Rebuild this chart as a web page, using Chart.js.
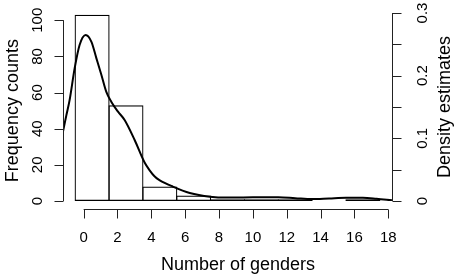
<!DOCTYPE html>
<html>
<head>
<meta charset="utf-8">
<script src="https://cdn.jsdelivr.net/npm/chart.js@4/dist/chart.umd.min.js"></script>
<style>
  html, body { margin: 0; padding: 0; background: #fff; }
  #wrap { width: 459px; height: 278px; }
</style>
</head>
<body>
<div id="wrap"><canvas id="genderChart"></canvas></div>
<script>
// histogram bins (centre of each 2-wide bin) and frequency counts
var binCentres = [0.5, 2.5, 4.5, 6.5, 8.5, 10.5, 12.5, 14.5, 16.5];
var binCounts = [103, 53, 8, 3, 1, 1, 1, 0, 1];

// kernel density estimate
var densityX = [-1.22, -1.02, -0.83, -0.53, -0.24, 0.12, 0.46, 0.75, 1.05, 1.34, 1.64, 2.03, 2.43, 3.02, 3.61, 3.9, 4.2, 4.5, 5.27, 6.27, 7.46, 8.5, 10, 11.5, 12.5, 13.5, 14.5, 15.5, 16.5, 17.3, 18.22];
var densityY = [0.111, 0.137, 0.161, 0.212, 0.249, 0.265, 0.254, 0.228, 0.201, 0.174, 0.158, 0.1425, 0.129, 0.097, 0.061, 0.049, 0.039, 0.033, 0.023, 0.0128, 0.0069, 0.0055, 0.0058, 0.006, 0.0045, 0.003, 0.004, 0.005, 0.005, 0.0035, 0.001];

// axis ticks
var genderTicks = [0, 2, 4, 6, 8, 10, 12, 14, 16, 18];
var countTicks = [0, 20, 40, 60, 80, 100];
var densityTicks = [0, 0.05, 0.1, 0.15, 0.2, 0.25, 0.3];
var densityLabels = ['0', '', '0.1', '', '0.2', '', '0.3'];

var tickFont = '15px "Liberation Sans", Arial, sans-serif';
var titleFont = '18px "Liberation Sans", Arial, sans-serif';

// R style axes, placed from the chart's own scales
var rAxes = {
    id: 'rAxes',
    afterDraw: function (chart) {
        var ctx = chart.ctx;
        var area = chart.chartArea;
        var xs = chart.scales.x, ys = chart.scales.y, ds = chart.scales.y2;
        ctx.save();
        ctx.strokeStyle = '#222';
        ctx.lineWidth = 1;
        ctx.fillStyle = '#000';

        // bottom axis
        var ay = Math.round(area.bottom + 8) + 0.5;
        ctx.beginPath();
        ctx.moveTo(xs.getPixelForValue(genderTicks[0]), ay);
        ctx.lineTo(xs.getPixelForValue(genderTicks[genderTicks.length - 1]), ay);
        genderTicks.forEach(function (t) {
            var px = Math.round(xs.getPixelForValue(t)) + 0.5;
            ctx.moveTo(px, ay);
            ctx.lineTo(px, ay + 9);
        });
        ctx.stroke();
        ctx.font = tickFont;
        ctx.textAlign = 'center';
        ctx.textBaseline = 'alphabetic';
        genderTicks.forEach(function (t) {
            ctx.fillText(String(t), xs.getPixelForValue(t), area.bottom + 41);
        });
        ctx.font = titleFont;
        ctx.fillText('Number of genders', (xs.getPixelForValue(0) + xs.getPixelForValue(18)) / 2 + 2, area.bottom + 69);

        // left axis
        var lx = Math.round(area.left) + 0.5;
        ctx.beginPath();
        ctx.moveTo(lx, ys.getPixelForValue(countTicks[0]));
        ctx.lineTo(lx, ys.getPixelForValue(countTicks[countTicks.length - 1]));
        countTicks.forEach(function (t) {
            var py = Math.round(ys.getPixelForValue(t)) + 0.5;
            ctx.moveTo(lx, py);
            ctx.lineTo(lx - 9, py);
        });
        ctx.stroke();

        // right axis
        var rx = Math.round(area.right) + 0.5;
        ctx.beginPath();
        ctx.moveTo(rx, ds.getPixelForValue(densityTicks[0]));
        ctx.lineTo(rx, ds.getPixelForValue(densityTicks[densityTicks.length - 1]));
        densityTicks.forEach(function (t) {
            var py = Math.round(ds.getPixelForValue(t)) + 0.5;
            ctx.moveTo(rx, py);
            ctx.lineTo(rx + 9, py);
        });
        ctx.stroke();

        // rotated labels
        ctx.font = tickFont;
        countTicks.forEach(function (t) {
            ctx.save();
            ctx.translate(area.left - 21, ys.getPixelForValue(t));
            ctx.rotate(-Math.PI / 2);
            ctx.fillText(String(t), 0, 0);
            ctx.restore();
        });
        densityTicks.forEach(function (t, i) {
            if (!densityLabels[i]) return;
            ctx.save();
            ctx.translate(area.right + 35, ds.getPixelForValue(t));
            ctx.rotate(-Math.PI / 2);
            ctx.fillText(densityLabels[i], 0, 0);
            ctx.restore();
        });
        ctx.font = titleFont;
        ctx.save();
        ctx.translate(18, ys.getPixelForValue(50));
        ctx.rotate(-Math.PI / 2);
        ctx.fillText('Frequency counts', 0, 0);
        ctx.restore();
        ctx.save();
        ctx.translate(450, ds.getPixelForValue(0.15));
        ctx.rotate(-Math.PI / 2);
        ctx.fillText('Density estimates', 0, 0);
        ctx.restore();

        ctx.restore();
    }
};

var bars = binCentres.map(function (c, i) { return { x: c, y: binCounts[i] }; });
var curve = densityX.map(function (x, i) { return { x: x, y: densityY[i] }; });

new Chart(document.getElementById('genderChart'), {
    data: {
        datasets: [
            {
                type: 'line',
                label: 'Density',
                data: curve,
                yAxisID: 'y2',
                borderColor: '#000',
                borderWidth: 2,
                pointRadius: 0,
                fill: false,
                cubicInterpolationMode: 'monotone',
                order: 1
            },
            {
                type: 'bar',
                label: 'Frequency',
                data: bars,
                yAxisID: 'y',
                backgroundColor: 'rgba(255,255,255,0)',
                borderColor: '#000',
                borderWidth: 1.2,
                borderSkipped: false,
                // a hair over 1 so neighbouring bars share one edge line
                barPercentage: 1.035,
                categoryPercentage: 1.0,
                order: 2
            }
        ]
    },
    options: {
        responsive: true,
        maintainAspectRatio: false,
        animation: false,
        layout: { padding: { left: 63, right: 67, top: 13, bottom: 77 } },
        plugins: { legend: { display: false }, tooltip: { enabled: false } },
        scales: {
            x: { type: 'linear', min: -1.22, max: 18.22, offset: false, display: false },
            y: { type: 'linear', min: 0, max: 104, display: false },
            y2: { type: 'linear', min: 0, max: 0.3, display: false }
        }
    },
    plugins: [rAxes]
});
</script>
</body>
</html>
